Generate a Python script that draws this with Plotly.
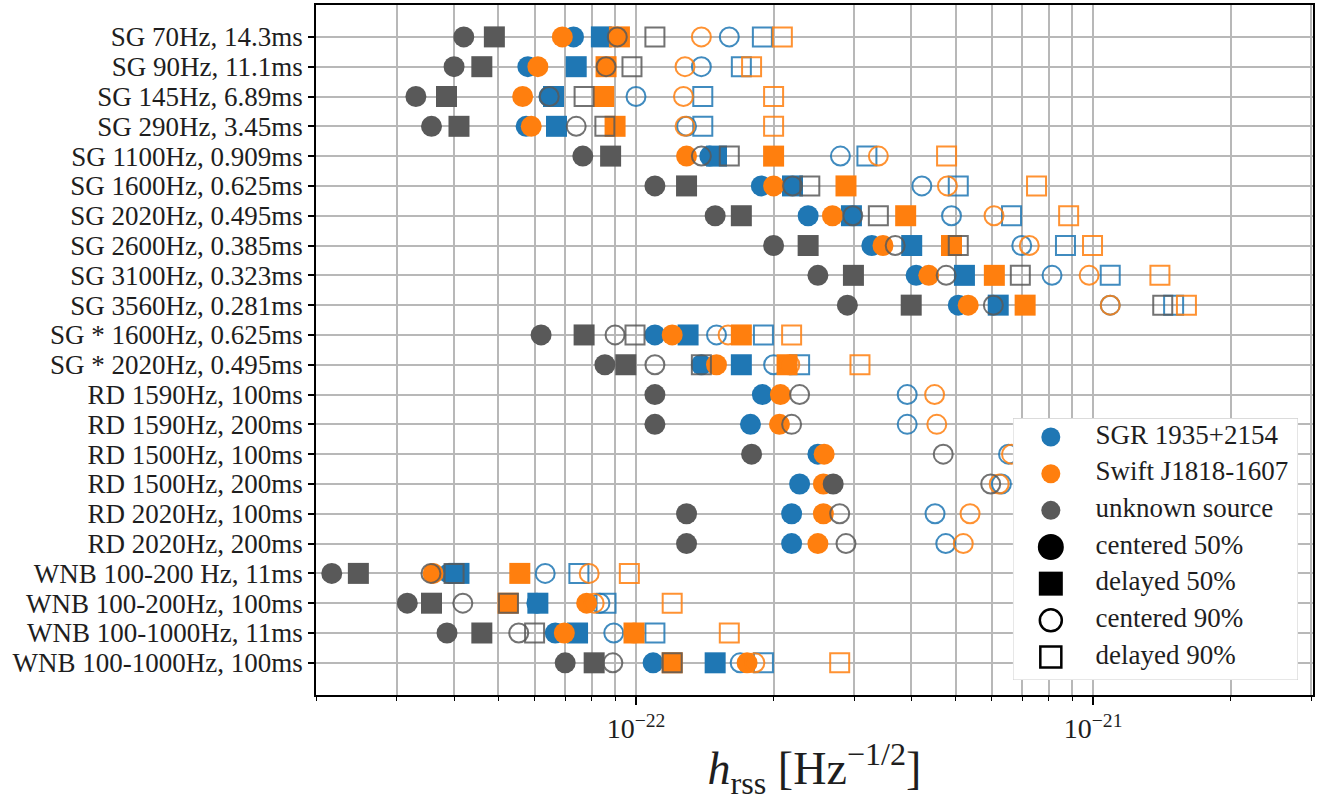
import plotly.graph_objects as go

# ---------------- data (h_rss values in units of 1e-22 Hz^-1/2) ----------------
UNIT = 1e-22
categories = [
    "SG 70Hz, 14.3ms", "SG 90Hz, 11.1ms", "SG 145Hz, 6.89ms", "SG 290Hz, 3.45ms",
    "SG 1100Hz, 0.909ms", "SG 1600Hz, 0.625ms", "SG 2020Hz, 0.495ms", "SG 2600Hz, 0.385ms",
    "SG 3100Hz, 0.323ms", "SG 3560Hz, 0.281ms", "SG * 1600Hz, 0.625ms", "SG * 2020Hz, 0.495ms",
    "RD 1590Hz, 100ms", "RD 1590Hz, 200ms", "RD 1500Hz, 100ms", "RD 1500Hz, 200ms",
    "RD 2020Hz, 100ms", "RD 2020Hz, 200ms", "WNB 100-200 Hz, 11ms", "WNB 100-200Hz, 100ms",
    "WNB 100-1000Hz, 11ms", "WNB 100-1000Hz, 100ms",
]
N6 = [None] * 6

sgr_c50 = [0.73, 0.58, 0.645, 0.575, 1.45, 1.88, 2.38, 3.28, 4.1, 5.07, 1.1, 1.39,
           1.89, 1.78, 2.5, 2.28, 2.19, 2.19, 0.39, 0.607, 0.666, 1.09]
sgr_d50 = [0.84, 0.74, 0.66, 0.67, 1.5, 2.2, 2.96, 4.01, 5.23, 6.2, 1.3, 1.70] + N6 + \
          [0.41, 0.61, 0.745, 1.49]
sgr_c90 = [1.6, 1.39, 1.0, 1.29, 2.8, 4.22, 4.9, 6.98, 8.13, 10.9, 1.5, 2.0,
           3.92, 3.92, 6.53, 6.3, 4.51, 4.76, 0.633, 0.834, 0.894, 1.69]
sgr_d90 = [1.89, 1.70, 1.40, 1.40, 3.2, 5.07, 6.63, 8.7, 10.9, 15.0, 1.9, 2.28] + N6 + \
          [0.75, 0.86, 1.1, 1.9]

swift_c50 = [0.69, 0.61, 0.565, 0.59, 1.29, 2.0, 2.69, 3.47, 4.37, 5.33, 1.2, 1.5,
             2.07, 2.06, 2.58, 2.57, 2.57, 2.5, 0.36, 0.78, 0.697, 1.75]
swift_d50 = [0.92, 0.86, 0.85, 0.90, 2.0, 2.88, 3.89, 4.9, 6.08, 7.1, 1.7, 2.14] + N6 + \
            [0.557, 0.525, 0.99, 1.2]
swift_c90 = [1.39, 1.28, 1.27, 1.28, 3.39, 4.8, 6.07, 7.25, 9.8, 10.9, 1.59, 2.17,
             4.5, 4.55, 6.63, 6.23, 5.38, 5.2, 0.79, 0.81, 0.99, 1.82]
swift_d90 = [2.09, 1.79, 2.0, 2.0, 4.78, 7.52, 8.84, 9.97, 14.0, 16.0, 2.19, 3.09] + N6 + \
            [0.967, 1.2, 1.6, 2.79]

unk_c50 = [0.42, 0.40, 0.33, 0.357, 0.765, 1.1, 1.49, 2.0, 2.5, 2.9, 0.62, 0.855,
           1.1, 1.1, 1.79, 2.7, 1.29, 1.29, 0.216, 0.316, 0.386, 0.70]
unk_d50 = [0.49, 0.46, 0.385, 0.41, 0.88, 1.29, 1.70, 2.38, 2.99, 4.0, 0.77, 0.95] + N6 + \
          [0.247, 0.357, 0.46, 0.81]
unk_c90 = [0.91, 0.86, 0.646, 0.74, 1.39, 2.2, 2.98, 3.69, 4.77, 6.05, 0.90, 1.1,
           2.28, 2.19, 4.7, 5.97, 2.79, 2.88, 0.356, 0.418, 0.554, 0.89]
unk_d90 = [1.1, 0.98, 0.77, 0.855, 1.6, 2.4, 3.39, 5.07, 6.93, 14.2, 0.995, 1.39] + N6 + \
           [0.40, 0.526, 0.60, 1.2]

source_names = ["SGR 1935+2154", "Swift J1818-1607", "unknown source"]
type_names = ["centered 50%", "delayed 50%", "centered 90%", "delayed 90%"]
legend_labels = source_names + type_names
x_tick_vals = [1e-22, 1e-21]
x_tick_text = ["10<sup>\u221222</sup>", "10<sup>\u221221</sup>"]

# ---------------- styling ----------------
COLORS = {"SGR 1935+2154": "#1f77b4", "Swift J1818-1607": "#ff7f0e", "unknown source": "#595959"}
SYMBOLS = {"centered 50%": "circle", "delayed 50%": "square",
           "centered 90%": "circle-open", "delayed 90%": "square-open"}
FONT = "Liberation Serif"
TEXT_COLOR = "#1e1e1e"

series = {
    "SGR 1935+2154": [sgr_c50, sgr_d50, sgr_c90, sgr_d90],
    "Swift J1818-1607": [swift_c50, swift_d50, swift_c90, swift_d90],
    "unknown source": [unk_c50, unk_d50, unk_c90, unk_d90],
}

fig = go.Figure()
for src in source_names:
    for tname, vals in zip(type_names, series[src]):
        xs, ys = [], []
        for cat, v in zip(categories, vals):
            if v is not None:
                xs.append(v * UNIT)
                ys.append(cat)
        is_open = tname.endswith("90%")
        fig.add_trace(go.Scatter(
            x=xs, y=ys, mode="markers", showlegend=False, hoverinfo="skip",
            marker=dict(symbol=SYMBOLS[tname], color=COLORS[src],
                        size=19 if is_open else 21,
                        opacity=0.85 if is_open else 1.0,
                        line=dict(width=2 if is_open else 0, color=COLORS[src])),
        ))

# ---------------- custom legend drawn in an overlay subplot ----------------
leg_idx = list(range(len(legend_labels)))
# background box
fig.add_trace(go.Scatter(
    x=[0, 1, 1, 0, 0], y=[-0.52, -0.52, 6.63, 6.63, -0.52], xaxis="x2", yaxis="y2",
    mode="lines", fill="toself", fillcolor="rgba(255,255,255,0.82)",
    line=dict(color="#d0d0d0", width=1.2), showlegend=False, hoverinfo="skip"))
MARK_X, TEXT_X = 0.133, 0.29
for i, lab in zip(leg_idx, legend_labels):
    if lab in COLORS:
        mk = dict(symbol="circle", color=COLORS[lab], size=19, line=dict(width=0))
    else:
        is_open = lab.endswith("90%")
        mk = dict(symbol=SYMBOLS[lab], color="black",
                  size=(22 if lab == "centered 90%" else 21) if is_open else (26 if lab == "centered 50%" else 24),
                  line=dict(width=2.5 if is_open else 0, color="black"))
    fig.add_trace(go.Scatter(x=[MARK_X], y=[i], xaxis="x2", yaxis="y2", mode="markers",
                             marker=mk, showlegend=False, hoverinfo="skip"))
fig.add_trace(go.Scatter(
    x=[TEXT_X] * len(legend_labels), y=leg_idx, xaxis="x2", yaxis="y2",
    mode="text", text=legend_labels, textposition="middle right",
    textfont=dict(family=FONT, size=27, color=TEXT_COLOR),
    showlegend=False, hoverinfo="skip"))

minor_vals = []
for exp in (-23, -22, -21):
    for m in range(2, 10):
        minor_vals.append(m * 10.0 ** exp)

fig.update_layout(
    width=1322, height=801,
    margin=dict(l=316, r=9, t=5, b=106),
    paper_bgcolor="white", plot_bgcolor="white",
    font=dict(family=FONT, size=27, color=TEXT_COLOR),
    showlegend=False,
    xaxis2=dict(domain=[0.699, 0.985], range=[0, 1], anchor="y2", visible=False,
                fixedrange=True),
    yaxis2=dict(domain=[0.0217, 0.4014], range=[6.63, -0.52], anchor="x2", visible=False,
                fixedrange=True),
)
fig.layout.xaxis.update(
    type="log", range=[-22.70, -20.519], automargin=False,
    tickmode="array", tickvals=x_tick_vals, ticktext=x_tick_text,
    tickfont=dict(family=FONT, size=28),
    ticks="outside", ticklen=8, tickwidth=1.5, tickcolor="black",
    showgrid=True, gridcolor="#b8b8b8", gridwidth=1.5,
    minor=dict(tickvals=minor_vals, ticks="outside", ticklen=4, tickwidth=1.2,
               tickcolor="black", showgrid=True, gridcolor="#b8b8b8", gridwidth=1.5),
    showline=True, linecolor="black", linewidth=1.5, mirror=True, zeroline=False,
    title=dict(text="<i>h</i><sub>rss</sub> [Hz<sup>\u22121/2</sup>]",
               font=dict(family=FONT, size=46), standoff=18),
)
fig.layout.yaxis.update(
    type="category", categoryorder="array", categoryarray=categories,
    range=[22.08, -1.07], automargin=False,
    tickmode="array", tickvals=categories, ticktext=categories,
    ticks="outside", ticklen=6, tickwidth=1.5, tickcolor="black",
    tickfont=dict(family=FONT, size=27),
    showgrid=True, gridcolor="#b8b8b8", gridwidth=1.5,
    showline=True, linecolor="black", linewidth=1.5, mirror=True, zeroline=False,
)

fig.write_html("out.html")
